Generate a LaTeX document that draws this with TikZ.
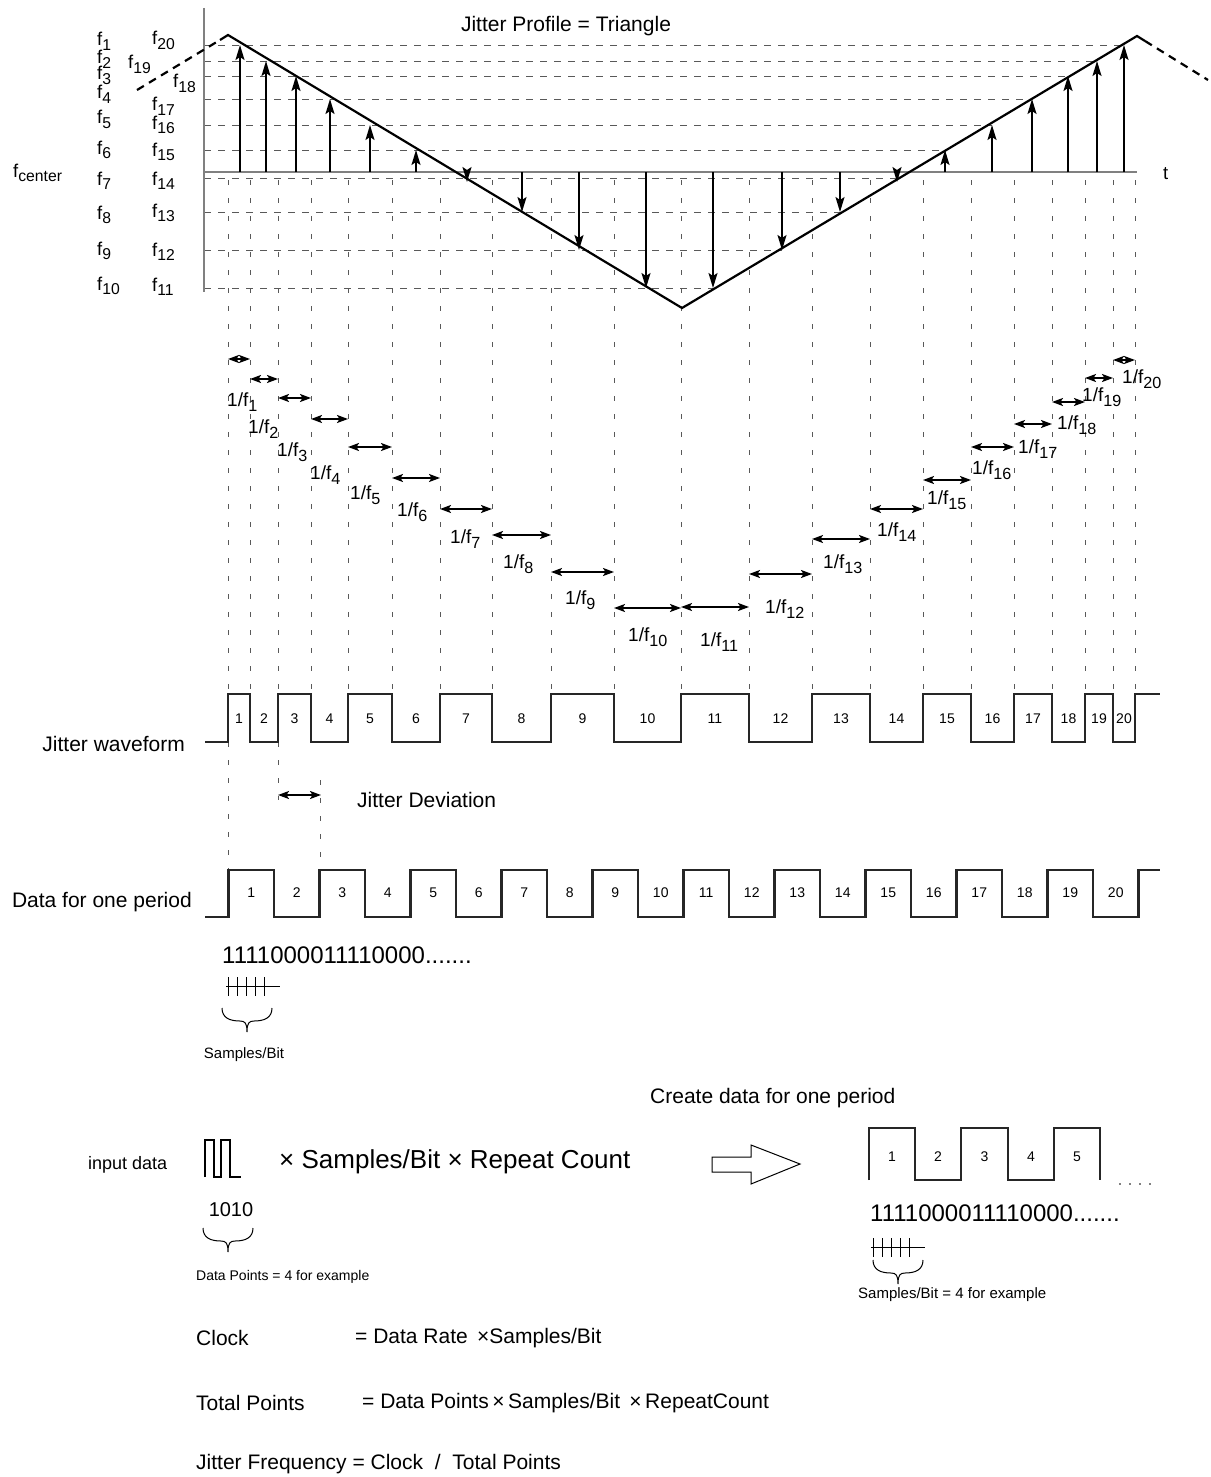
\documentclass[tikz,border=0pt]{standalone}
\usepackage{fontspec}
\setmainfont{Liberation Sans}
\usetikzlibrary{arrows.meta}
\newcommand\fsub[1]{\raisebox{-0.5ex}{\scalebox{0.85}{#1}}}
\newcommand\fsz[1]{\fontsize{#1pt}{#1pt}\selectfont}
\tikzset{
 ax/.style={gray, line width=1.4pt},
 tri/.style={black, line width=2.2pt},
 hd/.style={gray!70!black, line width=0.9pt, dash pattern=on 7pt off 7pt},
 vd/.style={gray!70!black, line width=0.9pt, dash pattern=on 5pt off 13pt},
 vup/.style={line width=1.7pt, -{Stealth[length=15pt,width=9pt,inset=3pt]}},
 dbl/.style={line width=1.7pt, {Stealth[length=11pt,width=8pt,inset=2.5pt]}-{Stealth[length=11pt,width=8pt,inset=2.5pt]}},
 wave/.style={line width=2.2pt, black!85, line join=miter},
 txt/.style={inner sep=0pt, font=\fsz{21}},
 flbl/.style={inner sep=0pt, anchor=base west, font=\fsz{18.5}},
 num/.style={inner sep=0pt, font=\fsz{14}},
 ubrace/.pic={\draw[line width=1pt] (0,0) .. controls (0,10) and (8,13) .. (18,13) .. controls (23,13) and (25,15) .. (25,24) .. controls (25,15) and (27,13) .. (32,13) .. controls (42,13) and (50,10) .. (50,0);},
}
\begin{document}
\begin{tikzpicture}[x=1pt,y=-1pt]
\fill[white] (0,0) rectangle (1210,1477);
\useasboundingbox (0,0) rectangle (1210,1477);

% ---------- horizontal dashed levels ----------
\foreach \y/\x in {45/1124, 61/1097, 76/1068, 99/1032, 125/992, 150/945, 178/897, 212/840, 250/782, 288/713}
  \draw[hd] (204,\y) -- (\x,\y);

% ---------- vertical dashed edges ----------
\foreach \x in {228,250,278,311,348,392,440,492,551,614,681,749,812,870,923,971,1014,1052,1085,1113,1135}
  \draw[vd] (\x,180) -- (\x,694);
\draw[vd] (228,742) -- (228,870);
\draw[vd] (278,742) -- (278,800);
\draw[vd] (320,780) -- (320,870);

% ---------- axes ----------
\coordinate (ytop) at (204,8);
\coordinate (ybot) at (204,292);
\coordinate (xl) at (204,172);
\coordinate (xr) at (1137,172);
\draw[ax] (ytop) -- (ybot);
\draw[ax] (xl) -- (xr);

% ---------- triangle profile ----------
\coordinate (pk1) at (228,35);
\coordinate (vl) at (682,308);
\coordinate (pk2) at (1137,36);
\draw[tri, dash pattern=on 8pt off 6pt] (137,90) -- (220,40);
\draw[tri, line join=miter] (220,40) -- (pk1) -- (vl) -- (pk2) -- (1145,41);
\draw[tri, dash pattern=on 8pt off 6pt] (1145,41) -- (1208,80);

% ---------- sample arrows ----------
\foreach \x/\y in {240/45, 266/61, 296/76, 330/99, 370/125, 416/150,
                   467/182, 522/212, 579/250, 646/288, 713/288, 782/250, 840/212, 897/182,
                   945/150, 992/125, 1032/99, 1068/76, 1097/61, 1124/45}
  \draw[vup] (\x,172) -- (\x,\y);

% ---------- frequency labels ----------
\node[flbl] (fc) at (13,177) {f\fsub{center}};
\foreach \i/\y in {1/46,2/64,3/80,4/99,5/124,6/154,7/185,8/219,9/255,10/290}
  \node[flbl] (fl\i) at (97,\y) {f\fsub{\i}};
\foreach \i/\x/\y in {20/152/45, 19/128/69, 18/173/88, 17/152/111, 16/152/129, 15/152/156, 14/152/185, 13/152/217, 12/152/256, 11/152/291}
  \node[flbl] (fr\i) at (\x,\y) {f\fsub{\i}};
\node[flbl] (tl) at (1163,179) {t};
\node[txt] (title) at (566,26) {Jitter Profile = Triangle};

% ---------- period arrows ----------
\foreach \a/\b/\y in {228/250/359, 250/278/379, 278/311/398, 311/348/419, 348/392/447, 392/440/478, 440/492/509, 492/551/535, 551/614/572, 614/681/608, 681/749/607, 749/812/574, 812/870/539, 870/923/509, 923/971/480, 971/1014/447, 1014/1052/424, 1052/1085/402, 1085/1113/378, 1113/1135/360}
  \draw[dbl] (\a,\y) -- (\b,\y);
\foreach \i/\x/\y in {1/227/406, 2/248/433, 3/277/456, 4/310/479, 5/350/499, 6/397/516, 7/450/543, 8/503/568, 9/565/604, 10/628/641, 11/700/646, 12/765/613, 13/823/568, 14/877/536, 15/927/504, 16/972/474, 17/1018/453, 18/1057/429, 19/1082/401, 20/1122/383}
  \node[flbl, font=\fsz{19}] (p\i) at (\x,\y) {1/f\fsub{\i}};

% ---------- jitter waveform ----------
\node[txt, anchor=east] (jwl) at (185,744) {Jitter waveform};
\draw[wave] (205,742) -| (228,694) -| (250,742) -| (278,694) -| (311,742) -| (348,694) -| (392,742) -| (440,694) -| (492,742) -| (551,694) -| (614,742) -| (681,694) -| (749,742) -| (812,694) -| (870,742) -| (923,694) -| (971,742) -| (1014,694) -| (1052,742) -| (1085,694) -| (1113,742) -| (1135,694) -- (1160,694);
\foreach \i/\x in {1/239, 2/264, 3/294.5, 4/329.5, 5/370, 6/416, 7/466, 8/521.5, 9/582.5, 10/647.5, 11/715, 12/780.5, 13/841, 14/896.5, 15/947, 16/992.5, 17/1033, 18/1068.5, 19/1099, 20/1124}
  \node[num] (jn\i) at (\x,719) {\i};

% ---------- jitter deviation ----------
\coordinate (jd1) at (278,795);
\coordinate (jd2) at (321,795);
\draw[dbl] (jd1) -- (jd2);
\node[txt, anchor=west] (jdl) at (357,800) {Jitter Deviation};

% ---------- data for one period ----------
\node[txt, anchor=east] (dpl) at (192,902) {Data for one period};
\draw[wave] (205,917) -| (228.5,870) -| (274,917) -| (319.5,870) -| (365,917) -| (410.5,870) -| (456,917) -| (501.5,870) -| (547,917) -| (592.5,870) -| (638,917) -| (683.5,870) -| (729,917) -| (774.5,870) -| (820,917) -| (865.5,870) -| (911,917) -| (956.5,870) -| (1002,917) -| (1047.5,870) -| (1093,917) -| (1138.5,870) -- (1160,870);
\foreach \k in {1,...,20}
  \node[num] (dn\k) at ({205.75+45.5*\k},893) {\k};

% ---------- samples per bit ----------
\node[inner sep=0pt, anchor=west, font=\fsz{24}] (bits1) at (222,955) {1111000011110000.......};
\draw[line width=1pt] (226,986) -- (280,986);
\foreach \x in {228,237,246,255,264} \draw[line width=1pt] (\x,977) -- (\x,996);
\pic at (222,1008) {ubrace};
\node[inner sep=0pt, font=\fsz{15}] (spb) at (244,1055) {Samples/Bit};

% ---------- create data ----------
\node[txt, anchor=west] (cdl) at (650,1098) {Create data for one period};
\node[inner sep=0pt, anchor=west, font=\fsz{18}] (inl) at (88,1165) {input data};
\draw[line width=1.4pt] (205,1177) -- (205,1140) -- (214,1140) -- (214,1177) -- (221,1177) -- (221,1140) -- (230,1140) -- (230,1177) -- (241,1177);
\node[inner sep=0pt, anchor=west, font=\fsz{26}] (mul) at (279,1162) {× Samples/Bit × Repeat Count};
\node[inner sep=0pt, font=\fsz{20}] (d1010) at (231,1210) {1010};
\pic at (203,1228) {ubrace};
\node[inner sep=0pt, anchor=west, font=\fsz{14}] (dpe) at (196,1277) {Data Points = 4 for example};

% hollow arrow
\draw[line width=1pt, line join=miter] (712,1157) -- (751,1157) -- (751,1145) -- (800,1164) -- (751,1184) -- (751,1172) -- (712,1172) -- cycle;

% right waveform
\draw[wave, line width=2pt] (869,1180) -- (869,1128) -- (915,1128) -- (915,1180) -- (961,1180) -- (961,1128) -- (1008,1128) -- (1008,1180) -- (1054,1180) -- (1054,1128) -- (1100,1128) -- (1100,1180);
\foreach \i/\x in {1/892, 2/938, 3/984.5, 4/1031, 5/1077}
  \node[num] (rn\i) at (\x,1157) {\i};
\foreach \x in {1120,1130,1140,1150} \fill (\x,1184) circle (0.9);
\node[inner sep=0pt, anchor=west, font=\fsz{24}] (bits2) at (870,1213) {1111000011110000.......};
\draw[line width=1pt] (871,1247) -- (925,1247);
\foreach \x in {873,882,891,900,909} \draw[line width=1pt] (\x,1238) -- (\x,1257);
\pic at (873,1260) {ubrace};
\node[inner sep=0pt, anchor=west, font=\fsz{15}] (spe) at (858,1295) {Samples/Bit = 4 for example};

% ---------- formulas ----------
\node[inner sep=0pt, anchor=west, font=\fsz{21}] (clk) at (196,1338) {Clock};
\node[inner sep=0pt, anchor=west, font=\fsz{21}] (clkf) at (355,1338) {= Data Rate \,×Samples/Bit};
\node[inner sep=0pt, anchor=west, font=\fsz{21}] (tp) at (196,1403) {Total Points};
\node[inner sep=0pt, anchor=west, font=\fsz{21}] (tpf) at (362,1403) {= Data Points\,×\,Samples/Bit \,×\,RepeatCount};
\node[inner sep=0pt, anchor=west, font=\fsz{21}] (jf) at (196,1464) {Jitter Frequency = Clock \;/\; Total Points};
\end{tikzpicture}
\end{document}
